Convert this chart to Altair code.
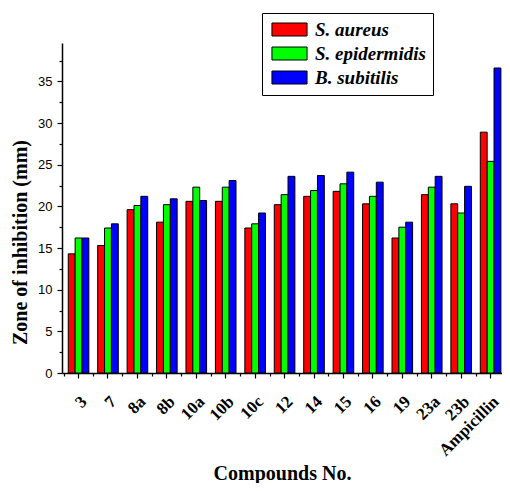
import altair as alt
import pandas as pd

compounds = ["3", "7", "8a", "8b", "10a", "10b", "10c", "12", "14", "15", "16", "19", "23a", "23b", "Ampicillin"]
s_aureus = [14.3, 15.3, 19.6, 18.1, 20.6, 20.6, 17.4, 20.2, 21.2, 21.8, 20.3, 16.2, 21.4, 20.3, 28.9]
s_epidermidis = [16.2, 17.4, 20.1, 20.2, 22.3, 22.3, 17.9, 21.4, 21.9, 22.7, 21.2, 17.5, 22.3, 19.2, 25.4]
b_subitilis = [16.2, 17.9, 21.2, 20.9, 20.7, 23.1, 19.2, 23.6, 23.7, 24.1, 22.9, 18.1, 23.6, 22.4, 36.6]
series = ["S. aureus", "S. epidermidis", "B. subitilis"]
colors = ["#FF0000", "#00FF00", "#0000FF"]
y_major = [0, 5, 10, 15, 20, 25, 30, 35]
y_minor = [2.5, 7.5, 12.5, 17.5, 22.5, 27.5, 32.5, 37.5]

rows = []
for name, vals in zip(series, [s_aureus, s_epidermidis, b_subitilis]):
    for c, v in zip(compounds, vals):
        rows.append({"compound": c, "series": name, "value": v})
df = pd.DataFrame(rows)

serif = "Liberation Serif"
sans = "Liberation Sans"

xscale = alt.Scale(paddingInner=0.3, paddingOuter=0.125, align=0.85)
yscale = alt.Scale(domain=[0, 39.6], nice=False, zero=True)

base = alt.Chart(df)

bars = base.mark_bar(stroke="black", strokeWidth=1).encode(
    x=alt.X("compound:N", sort=compounds, scale=xscale,
            axis=alt.Axis(orient="bottom", title="Compounds No.", labelAngle=-45,
                          labelAlign="right", labelBaseline="top", labelFont=serif,
                          labelFontSize=17, labelFontWeight="bold", labelColor="black",
                          labelPadding=15, tickSize=5, tickColor="black", tickWidth=1.2,
                          domainColor="black", domainWidth=1.5,
                          titleFont=serif, titleFontSize=20, titleFontWeight="bold",
                          titleColor="black", titleBaseline="alphabetic", titleY=106)),
    xOffset=alt.XOffset("series:N", sort=series,
                        scale=alt.Scale(paddingInner=0, paddingOuter=0)),
    y=alt.Y("value:Q", scale=yscale,
            axis=alt.Axis(orient="left", values=y_major, title="Zone of inhibition (mm)",
                          grid=False, tickSize=5, tickColor="black", tickWidth=1.2,
                          domainColor="black", domainWidth=1.5,
                          labelFont=sans, labelFontSize=13, labelColor="black", labelPadding=5,
                          titleFont=serif, titleFontSize=20, titleFontWeight="bold",
                          titleColor="black", titleX=-42, titleY=199,
                          titleBaseline="middle", titleAlign="center")),
    color=alt.Color("series:N", sort=series,
                    scale=alt.Scale(domain=series, range=colors),
                    legend=alt.Legend(orient="none", legendX=200, legendY=-30, title=None,
                                      strokeColor="black", fillColor="white", padding=7,
                                      symbolType="M-2.7,-1L2.7,-1L2.7,1L-2.7,1Z",
                                      symbolSize=169, symbolOffset=11,
                                      symbolStrokeColor="black",
                                      symbolStrokeWidth=1, symbolOpacity=1,
                                      labelFont=serif, labelFontSize=19, labelFontStyle="italic",
                                      labelFontWeight="bold", labelColor="black",
                                      labelOffset=16, rowPadding=4)),
)

minor = base.mark_bar(opacity=0).encode(
    x=alt.X("compound:N", sort=compounds, scale=xscale,
            axis=alt.Axis(orient="bottom", title=None, labels=False, domain=False,
                          tickSize=3, tickColor="black", tickWidth=1.2, tickOffset=-15)),
    y=alt.Y("value:Q", scale=yscale,
            axis=alt.Axis(orient="left", values=y_minor, title=None, labels=False,
                          domain=False, grid=False, tickSize=3, tickColor="black", tickWidth=1.2)),
)

chart = alt.layer(bars, minor).resolve_axis(x="independent", y="independent").properties(
    width=440, height=330,
    padding={"left": 54, "top": 35, "right": 0, "bottom": 110},
    autosize=alt.AutoSizeParams(type="none"),
).configure_view(stroke=None)

chart.save("out.html", embed_options={"renderer": "svg", "actions": False})
